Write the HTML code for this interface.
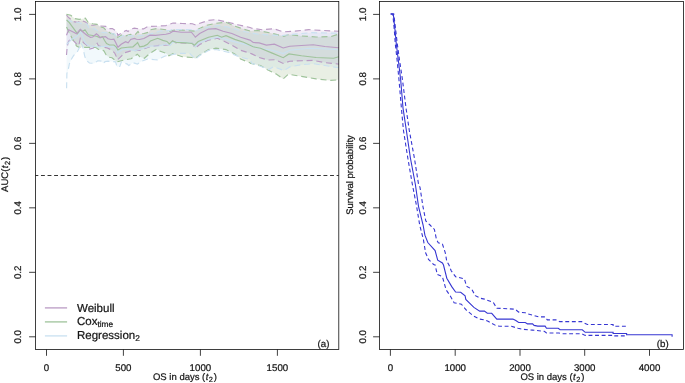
<!DOCTYPE html>
<html><head><meta charset="utf-8"><title>Figure</title>
<style>
html,body{margin:0;padding:0;background:#fff;}
body{width:685px;height:383px;overflow:hidden;}
svg{display:block;}
text{font-family:"Liberation Sans", Arial, sans-serif;fill:#161616;stroke:#161616;stroke-width:0.22px;text-rendering:geometricPrecision;}
.tk{font-size:9.7px;}
.al{font-size:9.5px;}
.lg{font-size:11.5px;}
.pn{font-size:9.7px;}
.sub{font-size:7.4px;}
.axl{stroke:#0a0a0a;stroke-width:0.78;fill:none;}
</style></head><body>
<svg width="685" height="383" viewBox="0 0 685 383">
<rect x="0" y="0" width="685" height="383" fill="#fff"/>
<clipPath id="cl"><rect x="35.5" y="1.5" width="303.3" height="348.1"/></clipPath><g clip-path="url(#cl)"><polygon points="66.5,15.0 68.2,17.1 73.3,21.5 77.7,22.3 81.4,20.4 85.4,21.9 89.0,25.2 93.4,25.2 97.8,24.4 100.0,26.0 105.8,26.4 108.8,28.6 112.4,28.6 116.8,31.5 117.9,35.5 122.7,32.2 126.3,30.4 128.1,31.5 130.3,29.3 134.4,28.2 139.5,28.9 143.5,28.9 148.2,26.4 155.6,26.3 165.9,25.6 173.0,23.0 182.2,23.5 192.4,23.7 195.0,24.7 195.3,24.7 208.5,20.4 215.8,19.6 226.0,21.8 237.7,24.7 250.0,27.5 251.8,28.3 262.0,29.7 273.7,28.7 283.2,31.9 294.2,31.2 308.8,29.7 323.4,30.5 338.8,31.2 338.8,64.1 324.9,62.6 313.2,60.4 301.5,60.7 289.8,61.2 283.2,63.4 275.2,59.7 267.9,60.0 259.1,57.5 251.8,53.9 250.0,53.2 240.6,50.3 231.9,45.2 223.1,40.8 217.3,38.3 208.5,40.1 199.7,44.5 195.3,48.1 194.9,47.5 192.4,43.3 176.0,42.9 172.5,40.9 170.0,44.0 169.0,45.0 159.7,45.3 150.5,46.5 140.3,50.1 130.1,51.1 125.0,52.6 121.4,56.1 117.7,59.7 114.8,53.2 112.0,50.2 107.3,48.0 103.0,47.0 98.5,45.8 97.1,43.3 93.4,48.0 89.8,49.1 86.9,45.4 83.9,43.2 81.4,40.0 80.3,38.4 78.8,45.5 77.7,45.4 74.4,41.7 72.0,39.5 70.0,39.0 68.2,42.2 67.2,47.0 66.5,55.0" fill="#9b69b4" fill-opacity="0.125" stroke="none"/><polygon points="66.4,14.2 70.8,15.3 74.8,18.6 79.2,19.3 81.4,19.0 85.4,18.2 88.3,22.6 92.7,23.7 97.1,24.4 100.0,26.8 103.7,27.8 106.6,30.8 110.2,33.0 113.9,34.1 116.1,35.2 117.9,37.4 121.9,34.8 125.6,35.9 130.7,34.4 135.1,34.8 138.0,31.5 139.8,34.1 143.9,33.5 148.6,32.2 150.5,29.7 156.7,28.6 165.9,29.7 168.9,31.7 173.0,30.2 182.2,30.0 194.9,31.2 196.8,29.9 205.6,25.5 215.8,23.3 226.0,22.3 234.8,26.2 243.6,29.1 250.0,31.0 257.6,30.5 269.3,32.7 283.9,36.3 288.3,34.6 301.5,36.0 316.1,37.0 330.7,36.6 338.8,34.1 338.8,79.8 330.7,80.4 316.1,78.9 301.5,76.4 288.3,74.2 283.2,78.9 276.6,74.2 267.9,69.9 260.5,65.5 250.3,63.3 250.0,62.8 240.6,59.1 234.8,54.0 226.0,49.6 215.8,48.2 208.5,49.6 201.2,54.0 195.3,58.4 195.3,58.4 192.0,57.5 182.2,56.7 173.0,53.7 168.9,55.7 165.9,53.2 159.7,51.1 156.7,49.1 149.5,53.7 144.4,58.3 139.8,56.7 137.3,54.2 131.1,58.8 125.0,59.8 117.0,61.9 112.0,57.8 109.5,57.2 106.6,55.7 104.0,51.0 101.8,49.5 98.5,49.5 95.6,47.3 91.2,47.3 85.0,47.3 79.2,47.3 76.6,46.1 73.7,41.0 72.2,38.4 69.3,32.9 66.5,27.0" fill="#719b50" fill-opacity="0.155" stroke="none"/><polygon points="66.6,20.0 73.3,21.9 79.0,22.5 82.5,23.8 86.9,23.8 89.0,28.2 94.2,28.2 97.1,30.4 101.5,32.2 108.0,33.0 114.6,34.1 117.9,38.4 124.1,35.2 132.2,35.9 140.9,35.5 150.0,34.1 160.0,31.0 170.0,30.5 172.5,29.5 183.6,29.6 194.5,29.8 196.0,30.5 208.5,26.9 218.7,25.5 228.0,27.0 237.7,29.9 246.5,32.0 257.6,34.1 270.0,35.0 281.0,35.6 294.2,34.1 311.7,32.7 330.7,33.1 338.8,33.1 338.8,67.7 324.9,65.5 313.2,63.7 301.5,64.7 289.8,66.9 283.9,70.6 273.7,66.6 268.6,69.6 260.5,66.2 251.8,63.3 250.0,59.6 240.0,57.0 229.0,52.5 216.0,49.5 208.5,50.4 199.7,55.5 195.3,59.1 189.5,53.3 179.2,53.3 171.9,54.7 164.6,56.2 157.3,59.9 155.0,59.7 147.7,59.0 141.9,61.2 137.5,64.1 133.1,62.7 128.7,65.6 127.3,64.1 121.4,61.9 119.9,66.3 117.0,67.0 115.6,61.9 112.0,61.5 108.0,61.2 105.1,61.6 103.3,63.4 101.5,61.2 97.8,60.8 94.2,63.4 89.4,63.0 86.1,60.1 84.7,56.1 83.6,51.0 82.5,45.8 80.6,42.9 79.2,48.0 77.4,51.7 73.7,55.4 71.5,59.0 69.3,64.1 68.6,68.0 66.9,73.6 66.6,88.2" fill="#82c0e6" fill-opacity="0.1" stroke="none"/><polyline points="66.5,15.0 68.2,17.1 73.3,21.5 77.7,22.3 81.4,20.4 85.4,21.9 89.0,25.2 93.4,25.2 97.8,24.4 100.0,26.0 105.8,26.4 108.8,28.6 112.4,28.6 116.8,31.5 117.9,35.5 122.7,32.2 126.3,30.4 128.1,31.5 130.3,29.3 134.4,28.2 139.5,28.9 143.5,28.9 148.2,26.4 155.6,26.3 165.9,25.6 173.0,23.0 182.2,23.5 192.4,23.7 195.0,24.7 195.3,24.7 208.5,20.4 215.8,19.6 226.0,21.8 237.7,24.7 250.0,27.5 251.8,28.3 262.0,29.7 273.7,28.7 283.2,31.9 294.2,31.2 308.8,29.7 323.4,30.5 338.8,31.2" fill="none" stroke="#ba9bc4" stroke-width="1.15" stroke-dasharray="6,3.8"/><polyline points="66.5,55.0 67.2,47.0 68.2,42.2 70.0,39.0 72.0,39.5 74.4,41.7 77.7,45.4 78.8,45.5 80.3,38.4 81.4,40.0 83.9,43.2 86.9,45.4 89.8,49.1 93.4,48.0 97.1,43.3 98.5,45.8 103.0,47.0 107.3,48.0 112.0,50.2 114.8,53.2 117.7,59.7 121.4,56.1 125.0,52.6 130.1,51.1 140.3,50.1 150.5,46.5 159.7,45.3 169.0,45.0 170.0,44.0 172.5,40.9 176.0,42.9 192.4,43.3 194.9,47.5 195.3,48.1 199.7,44.5 208.5,40.1 217.3,38.3 223.1,40.8 231.9,45.2 240.6,50.3 250.0,53.2 251.8,53.9 259.1,57.5 267.9,60.0 275.2,59.7 283.2,63.4 289.8,61.2 301.5,60.7 313.2,60.4 324.9,62.6 338.8,64.1" fill="none" stroke="#ba9bc4" stroke-width="1.15" stroke-dasharray="6,3.8"/><polyline points="66.4,14.2 70.8,15.3 74.8,18.6 79.2,19.3 81.4,19.0 85.4,18.2 88.3,22.6 92.7,23.7 97.1,24.4 100.0,26.8 103.7,27.8 106.6,30.8 110.2,33.0 113.9,34.1 116.1,35.2 117.9,37.4 121.9,34.8 125.6,35.9 130.7,34.4 135.1,34.8 138.0,31.5 139.8,34.1 143.9,33.5 148.6,32.2 150.5,29.7 156.7,28.6 165.9,29.7 168.9,31.7 173.0,30.2 182.2,30.0 194.9,31.2 196.8,29.9 205.6,25.5 215.8,23.3 226.0,22.3 234.8,26.2 243.6,29.1 250.0,31.0 257.6,30.5 269.3,32.7 283.9,36.3 288.3,34.6 301.5,36.0 316.1,37.0 330.7,36.6 338.8,34.1" fill="none" stroke="#9fc39b" stroke-width="1.15" stroke-dasharray="6,3.8"/><polyline points="66.5,27.0 69.3,32.9 72.2,38.4 73.7,41.0 76.6,46.1 79.2,47.3 85.0,47.3 91.2,47.3 95.6,47.3 98.5,49.5 101.8,49.5 104.0,51.0 106.6,55.7 109.5,57.2 112.0,57.8 117.0,61.9 125.0,59.8 131.1,58.8 137.3,54.2 139.8,56.7 144.4,58.3 149.5,53.7 156.7,49.1 159.7,51.1 165.9,53.2 168.9,55.7 173.0,53.7 182.2,56.7 192.0,57.5 195.3,58.4 195.3,58.4 201.2,54.0 208.5,49.6 215.8,48.2 226.0,49.6 234.8,54.0 240.6,59.1 250.0,62.8 250.3,63.3 260.5,65.5 267.9,69.9 276.6,74.2 283.2,78.9 288.3,74.2 301.5,76.4 316.1,78.9 330.7,80.4 338.8,79.8" fill="none" stroke="#9fc39b" stroke-width="1.15" stroke-dasharray="6,3.8"/><polyline points="66.6,20.0 73.3,21.9 79.0,22.5 82.5,23.8 86.9,23.8 89.0,28.2 94.2,28.2 97.1,30.4 101.5,32.2 108.0,33.0 114.6,34.1 117.9,38.4 124.1,35.2 132.2,35.9 140.9,35.5 150.0,34.1 160.0,31.0 170.0,30.5 172.5,29.5 183.6,29.6 194.5,29.8 196.0,30.5 208.5,26.9 218.7,25.5 228.0,27.0 237.7,29.9 246.5,32.0 257.6,34.1 270.0,35.0 281.0,35.6 294.2,34.1 311.7,32.7 330.7,33.1 338.8,33.1" fill="none" stroke="#c9e0f0" stroke-width="1.15" stroke-dasharray="6,3.8"/><polyline points="66.6,88.2 66.9,73.6 68.6,68.0 69.3,64.1 71.5,59.0 73.7,55.4 77.4,51.7 79.2,48.0 80.6,42.9 82.5,45.8 83.6,51.0 84.7,56.1 86.1,60.1 89.4,63.0 94.2,63.4 97.8,60.8 101.5,61.2 103.3,63.4 105.1,61.6 108.0,61.2 112.0,61.5 115.6,61.9 117.0,67.0 119.9,66.3 121.4,61.9 127.3,64.1 128.7,65.6 133.1,62.7 137.5,64.1 141.9,61.2 147.7,59.0 155.0,59.7 157.3,59.9 164.6,56.2 171.9,54.7 179.2,53.3 189.5,53.3 195.3,59.1 199.7,55.5 208.5,50.4 216.0,49.5 229.0,52.5 240.0,57.0 250.0,59.6 251.8,63.3 260.5,66.2 268.6,69.6 273.7,66.6 283.9,70.6 289.8,66.9 301.5,64.7 313.2,63.7 324.9,65.5 338.8,67.7" fill="none" stroke="#c9e0f0" stroke-width="1.15" stroke-dasharray="6,3.8"/><polyline points="66.6,44.5 67.8,43.2 71.5,39.5 76.6,36.6 79.5,33.7 81.0,32.2 82.5,35.9 83.9,40.3 86.1,43.9 89.0,45.8 94.9,46.5 98.0,47.0 103.9,46.3 109.7,46.3 115.6,47.0 117.7,52.9 122.9,49.2 128.0,49.0 135.2,50.6 141.3,49.0 150.5,46.0 158.7,46.0 165.9,44.0 170.0,45.5 173.0,41.9 186.3,42.4 192.4,43.5 195.3,46.5 199.0,43.0 208.5,39.2 218.7,37.2 226.0,39.4 237.7,42.6 250.0,45.4 257.6,48.0 272.2,50.2 283.2,53.6 289.8,50.2 308.8,48.3 323.4,48.7 338.8,49.8" fill="none" stroke="#c9e0f0" stroke-width="1.15"/><polyline points="66.6,20.0 69.3,22.6 73.0,27.7 77.4,33.7 80.3,29.7 82.5,31.5 85.0,29.7 88.3,34.8 92.7,35.5 96.4,36.3 99.3,37.4 100.0,37.4 102.6,36.6 104.4,40.3 106.6,43.6 109.5,45.0 113.9,45.0 116.1,46.9 117.9,50.0 121.2,48.0 127.8,47.2 132.9,46.9 135.8,44.3 137.6,42.5 139.8,46.9 143.9,46.1 147.5,44.3 150.5,40.9 157.7,38.3 162.8,40.4 166.9,41.4 169.4,44.0 172.5,40.9 176.1,42.4 186.3,42.9 192.0,43.5 194.5,45.2 198.2,41.5 208.5,37.2 217.3,35.3 221.6,37.2 226.0,35.7 234.8,39.4 243.6,42.3 250.0,45.2 253.2,46.8 260.5,48.3 272.2,53.1 283.2,57.7 289.0,53.9 301.5,55.8 316.1,57.5 333.6,58.2 338.8,56.8" fill="none" stroke="#9fc39b" stroke-width="1.15"/><polyline points="66.5,35.2 68.6,29.7 72.2,31.5 76.6,33.7 80.3,29.3 83.2,32.2 86.9,35.2 90.5,37.4 92.7,37.0 96.4,33.7 98.5,35.5 100.0,37.7 102.2,37.0 105.5,36.6 108.0,38.8 111.0,39.5 113.9,39.2 115.7,42.5 117.9,47.2 121.2,44.3 125.6,41.7 128.1,42.8 130.7,39.5 134.4,38.4 136.5,39.2 139.5,39.5 143.9,38.5 147.5,36.6 150.0,35.2 155.6,35.3 160.8,34.8 165.9,34.3 169.9,33.2 173.0,31.2 181.2,32.2 191.4,32.2 194.9,36.5 195.3,37.2 199.7,33.5 208.5,29.1 215.8,28.7 223.1,31.3 231.9,33.5 240.6,37.2 250.0,40.1 253.2,42.5 259.1,42.9 266.4,45.1 274.4,44.1 283.2,48.0 289.8,46.3 301.5,45.5 313.2,44.8 324.9,46.5 338.8,47.7" fill="none" stroke="#ba9bc4" stroke-width="1.15"/><line x1="34.4" y1="175.5" x2="338.8" y2="175.5" stroke="#111" stroke-width="0.85" stroke-dasharray="3.9,2.67"/></g><rect class="axl" x="35.5" y="1.5" width="303.3" height="348.1"/><line class="axl" x1="29.1" y1="14.4" x2="35.5" y2="14.4"/><text class="tk" text-anchor="middle" transform="translate(21.2,14.4) rotate(-90)">1.0</text><line class="axl" x1="29.1" y1="78.88" x2="35.5" y2="78.88"/><text class="tk" text-anchor="middle" transform="translate(21.2,78.88) rotate(-90)">0.8</text><line class="axl" x1="29.1" y1="143.36" x2="35.5" y2="143.36"/><text class="tk" text-anchor="middle" transform="translate(21.2,143.36) rotate(-90)">0.6</text><line class="axl" x1="29.1" y1="207.84" x2="35.5" y2="207.84"/><text class="tk" text-anchor="middle" transform="translate(21.2,207.84) rotate(-90)">0.4</text><line class="axl" x1="29.1" y1="272.32" x2="35.5" y2="272.32"/><text class="tk" text-anchor="middle" transform="translate(21.2,272.32) rotate(-90)">0.2</text><line class="axl" x1="29.1" y1="336.8" x2="35.5" y2="336.8"/><text class="tk" text-anchor="middle" transform="translate(21.2,336.8) rotate(-90)">0.0</text><line class="axl" x1="46.5" y1="349.6" x2="46.5" y2="355.8"/><text class="tk" text-anchor="middle" x="46.5" y="370.9">0</text><line class="axl" x1="123.4" y1="349.6" x2="123.4" y2="355.8"/><text class="tk" text-anchor="middle" x="123.4" y="370.9">500</text><line class="axl" x1="200.4" y1="349.6" x2="200.4" y2="355.8"/><text class="tk" text-anchor="middle" x="200.4" y="370.9">1000</text><line class="axl" x1="277.4" y1="349.6" x2="277.4" y2="355.8"/><text class="tk" text-anchor="middle" x="277.4" y="370.9">1500</text><text class="al" text-anchor="middle" x="185" y="380.3">OS in days (<tspan font-style="italic" dx="0.4">t</tspan><tspan class="sub" dy="1.6" dx="0.5">2</tspan><tspan dy="-1.6" dx="0.9">)</tspan></text><text class="al" text-anchor="middle" transform="translate(8.2,174.4) rotate(-90)">AUC(<tspan font-style="italic" dx="0.4">t</tspan><tspan class="sub" dy="1.6" dx="0.5">2</tspan><tspan dy="-1.6" dx="0.9">)</tspan></text><text class="pn" x="317.6" y="347.4">(a)</text><line x1="44.9" y1="307.9" x2="67.1" y2="307.9" stroke="#ba9bc4" stroke-width="1.3"/><line x1="44.9" y1="321.9" x2="67.1" y2="321.9" stroke="#9fc39b" stroke-width="1.3"/><line x1="44.9" y1="335.9" x2="67.1" y2="335.9" stroke="#c9e0f0" stroke-width="1.3"/><text class="lg" x="77.0" y="311.9">Weibull</text><text class="lg" x="77.0" y="325.2">Cox<tspan font-size="8.3px" dy="1.7">time</tspan></text><text class="lg" x="77.0" y="338.7">Regression<tspan font-size="8.3px" dy="2.0">2</tspan></text><clipPath id="cr"><rect x="379.5" y="1.5" width="303.9" height="348.1"/></clipPath><g clip-path="url(#cr)"><polyline points="390.7,14.0 393.8,14.0 395.7,30.0 397.3,44.0 399.5,60.0 402.5,80.0 406.0,108.0 409.2,130.0 414.4,158.0 418.5,184.0 420.0,187.3 422.9,206.3 425.8,221.0 430.0,225.0 434.4,229.4 436.5,239.6 438.3,242.8 442.4,244.0 445.3,252.8 446.8,261.5 449.0,265.0 451.2,270.8 455.6,276.7 464.4,278.9 466.5,286.2 471.7,289.1 475.3,295.7 480.4,298.3 484.4,299.1 493.2,302.3 496.8,308.2 515.1,309.2 518.7,312.1 525.3,312.8 528.2,314.0 534.1,315.5 538.5,316.9 545.1,316.9 547.3,319.9 556.8,319.9 559.7,321.6 581.6,321.6 585.2,323.4 587.4,324.5 613.1,324.5 613.1,326.3 626.6,326.3 626.6,327.2" fill="none" stroke="#3636d2" stroke-width="1.1" stroke-dasharray="3.9,2.67"/><polyline points="390.7,14.0 392.8,14.0 394.3,30.0 395.3,44.0 397.1,60.0 399.0,80.0 401.4,108.0 403.4,130.0 407.8,158.0 412.3,184.0 416.6,206.3 419.7,225.0 423.4,239.6 425.6,252.8 428.5,259.4 433.6,264.5 435.1,265.0 437.3,274.5 442.4,276.7 446.1,289.9 449.7,295.0 454.1,302.7 461.4,304.2 466.5,310.3 473.9,316.2 479.7,319.1 484.4,319.8 488.0,321.3 496.1,325.7 499.7,326.3 511.4,326.3 518.0,328.3 523.9,329.4 532.6,330.1 544.3,331.3 546.5,333.0 559.0,333.0 561.9,333.7 581.6,333.7 585.2,335.4 613.1,335.4 613.1,335.9 626.6,335.9" fill="none" stroke="#3636d2" stroke-width="1.1" stroke-dasharray="3.9,2.67"/><polyline points="390.7,14.0 393.3,14.0 395.0,30.0 396.3,44.0 398.3,60.0 400.7,80.0 403.0,108.0 406.3,130.0 410.4,158.0 415.3,184.0 418.5,206.3 423.1,225.0 424.9,235.2 427.8,242.5 435.1,250.6 437.7,260.1 442.4,263.0 443.5,265.0 446.8,278.2 451.9,286.9 455.6,292.0 460.7,292.3 465.1,295.7 465.8,299.4 473.9,307.4 479.7,311.1 484.4,311.1 487.3,313.3 491.7,313.3 496.8,319.1 512.9,319.1 515.8,320.6 518.7,322.5 525.3,322.5 527.5,323.9 532.6,323.9 534.1,325.4 537.7,326.1 545.1,326.1 546.5,328.3 558.2,328.3 560.1,329.8 582.3,329.8 585.2,332.3 613.1,332.3 613.1,333.5 626.6,333.5 626.6,334.7 672.1,334.7 672.1,336.8" fill="none" stroke="#3636d2" stroke-width="1.1"/></g><rect class="axl" x="379.5" y="1.5" width="303.9" height="348.1"/><line class="axl" x1="373.1" y1="14.4" x2="379.5" y2="14.4"/><text class="tk" text-anchor="middle" transform="translate(365.7,14.4) rotate(-90)">1.0</text><line class="axl" x1="373.1" y1="78.88" x2="379.5" y2="78.88"/><text class="tk" text-anchor="middle" transform="translate(365.7,78.88) rotate(-90)">0.8</text><line class="axl" x1="373.1" y1="143.36" x2="379.5" y2="143.36"/><text class="tk" text-anchor="middle" transform="translate(365.7,143.36) rotate(-90)">0.6</text><line class="axl" x1="373.1" y1="207.84" x2="379.5" y2="207.84"/><text class="tk" text-anchor="middle" transform="translate(365.7,207.84) rotate(-90)">0.4</text><line class="axl" x1="373.1" y1="272.32" x2="379.5" y2="272.32"/><text class="tk" text-anchor="middle" transform="translate(365.7,272.32) rotate(-90)">0.2</text><line class="axl" x1="373.1" y1="336.8" x2="379.5" y2="336.8"/><text class="tk" text-anchor="middle" transform="translate(365.7,336.8) rotate(-90)">0.0</text><line class="axl" x1="390.4" y1="349.6" x2="390.4" y2="355.8"/><text class="tk" text-anchor="middle" x="390.4" y="370.9">0</text><line class="axl" x1="455.2" y1="349.6" x2="455.2" y2="355.8"/><text class="tk" text-anchor="middle" x="455.2" y="370.9">1000</text><line class="axl" x1="520.0" y1="349.6" x2="520.0" y2="355.8"/><text class="tk" text-anchor="middle" x="520.0" y="370.9">2000</text><line class="axl" x1="584.7" y1="349.6" x2="584.7" y2="355.8"/><text class="tk" text-anchor="middle" x="584.7" y="370.9">3000</text><line class="axl" x1="649.5" y1="349.6" x2="649.5" y2="355.8"/><text class="tk" text-anchor="middle" x="649.5" y="370.9">4000</text><text class="al" text-anchor="middle" x="552.4" y="380.3">OS in days (<tspan font-style="italic" dx="0.4">t</tspan><tspan class="sub" dy="1.6" dx="0.5">2</tspan><tspan dy="-1.6" dx="0.9">)</tspan></text><text class="al" text-anchor="middle" transform="translate(352.5,175) rotate(-90)">Survival probability</text><text class="pn" x="656.8" y="347.4">(b)</text></svg>
</body></html>
